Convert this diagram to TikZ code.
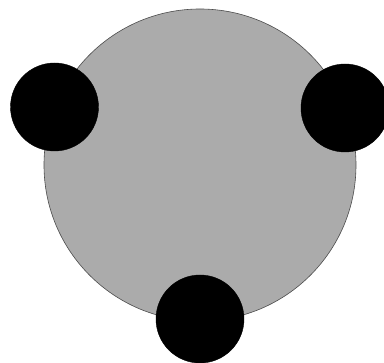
\documentclass[tikz,border=0pt]{standalone}
\begin{document}
\begin{tikzpicture}[x=1pt,y=-1pt,
  body/.style={circle,draw=black!70,line width=0.6pt,fill=black!33,minimum size=312pt,inner sep=0pt},
  ball/.style={circle,fill=black,draw=black,minimum size=88pt,inner sep=0pt}]
\useasboundingbox[fill=white] (0,0) rectangle (384,363);
\clip (0,0) rectangle (384,363);
\node[body] (g) at (200,165) {};
\node[ball] (l) at (54.5,107) {};
\node[ball] (r) at (345,108) {};
\node[ball] (b) at (200,319) {};
\end{tikzpicture}
\end{document}
